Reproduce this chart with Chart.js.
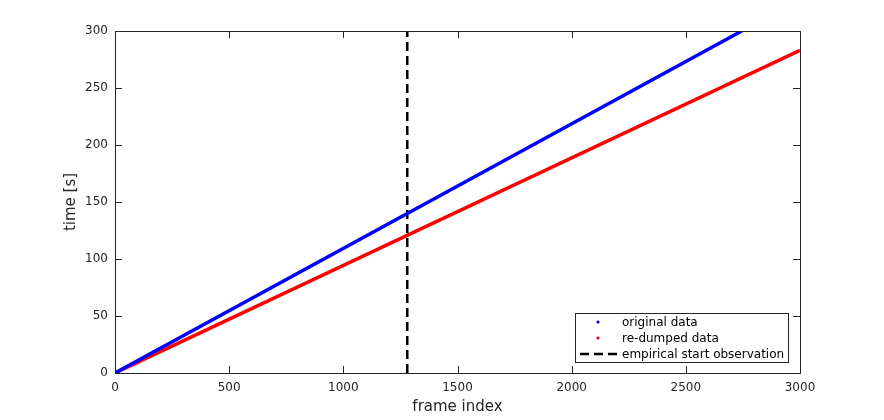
<!DOCTYPE html>
<html>
<head>
<meta charset="utf-8">
<script src="https://cdn.jsdelivr.net/npm/chart.js@4/dist/chart.umd.min.js"></script>
<style>
  html, body { margin: 0; padding: 0; background: #fff; }
  #wrap { width: 884px; height: 420px; }
</style>
</head>
<body>
<div id="wrap"><canvas id="grafico" width="884" height="420"></canvas></div>
<script>
// dados
const origX = [0, 2745];
const origY = [0, 300];
const redumpX = [0, 3000];
const redumpY = [0, 283];
const startFrame = [1280, 1280];
const startY = [0, 300];
const xTicks = [0, 500, 1000, 1500, 2000, 2500, 3000];
const yTicks = [0, 50, 100, 150, 200, 250, 300];
const legendLabels = ['original data', 're-dumped data', 'empirical start observation'];

const axisColor = '#262626';
const fonte = 'DejaVu Sans';

function pontos(xs, ys) {
  return xs.map((x, i) => ({ x: x, y: ys[i] }));
}

// caixa e ticks internos estilo matlab + legenda
const caixaPlugin = {
  id: 'caixa',
  afterDatasetsDraw(chart) {
    const ctx = chart.ctx;
    const a = chart.chartArea;
    const sx = chart.scales.x, sy = chart.scales.y;
    ctx.save();
    ctx.strokeStyle = axisColor;
    ctx.lineWidth = 1;
    ctx.strokeRect(a.left + 0.5, a.top + 0.5, a.right - a.left, a.bottom - a.top);
    ctx.beginPath();
    xTicks.forEach(v => {
      const px = Math.round(sx.getPixelForValue(v)) + 0.5;
      ctx.moveTo(px, a.bottom); ctx.lineTo(px, a.bottom - 7);
      ctx.moveTo(px, a.top); ctx.lineTo(px, a.top + 7);
    });
    yTicks.forEach(v => {
      const py = Math.round(sy.getPixelForValue(v)) + 0.5;
      ctx.moveTo(a.left, py); ctx.lineTo(a.left + 7, py);
      ctx.moveTo(a.right, py); ctx.lineTo(a.right - 7, py);
    });
    ctx.stroke();

    // legenda
    const lx = 575, ly = 313, lw = 213, lh = 49;
    ctx.fillStyle = '#fff';
    ctx.fillRect(lx, ly, lw, lh);
    ctx.strokeStyle = axisColor;
    ctx.strokeRect(lx + 0.5, ly + 0.5, lw, lh);
    const rows = [322, 338, 354];
    ctx.font = '12px ' + fonte;
    ctx.textBaseline = 'middle';
    ctx.textAlign = 'left';
    const cores = ['#0000ff', '#ff0000'];
    for (let i = 0; i < 2; i++) {
      ctx.fillStyle = cores[i];
      ctx.beginPath();
      ctx.arc(598, rows[i], 1.6, 0, Math.PI * 2);
      ctx.fill();
    }
    ctx.strokeStyle = '#000';
    ctx.lineWidth = 2.5;
    ctx.setLineDash([9, 5]);
    ctx.beginPath();
    ctx.moveTo(580, rows[2]); ctx.lineTo(621, rows[2]);
    ctx.stroke();
    ctx.setLineDash([]);
    ctx.fillStyle = '#000';
    legendLabels.forEach((t, i) => ctx.fillText(t, 622, rows[i] + 0.5));
    ctx.restore();
  }
};

const ctx = document.getElementById('grafico').getContext('2d');
const chart = new Chart(ctx, {
  type: 'scatter',
  data: {
    datasets: [
      {
        label: legendLabels[0],
        data: pontos(origX, origY),
        showLine: true,
        borderColor: '#0000ff',
        borderWidth: 3.5,
        pointRadius: 0
      },
      {
        label: legendLabels[1],
        data: pontos(redumpX, redumpY),
        showLine: true,
        borderColor: '#ff0000',
        borderWidth: 3.5,
        pointRadius: 0
      },
      {
        label: legendLabels[2],
        data: pontos(startFrame, startY),
        showLine: true,
        borderColor: '#000',
        borderWidth: 2.5,
        borderDash: [9, 5],
        pointRadius: 0
      }
    ]
  },
  options: {
    responsive: false,
    animation: false,
    events: [],
    layout: { padding: { top: 31, right: 84, left: 0, bottom: 0 } },
    plugins: {
      legend: { display: false },
      tooltip: { enabled: false }
    },
    scales: {
      x: {
        type: 'linear',
        min: 0,
        max: 3000,
        afterFit: s => { s.height = 47; },
        afterBuildTicks: s => { s.ticks = xTicks.map(v => ({ value: v })); },
        grid: { display: false, drawTicks: false },
        border: { display: false },
        ticks: { color: axisColor, font: { family: fonte, size: 12 }, padding: 8, maxRotation: 0, callback: v => String(v) },
        title: { display: true, text: 'frame index', color: axisColor, font: { family: fonte, size: 15 }, padding: { top: 0, bottom: 4 } }
      },
      y: {
        type: 'linear',
        min: 0,
        max: 300,
        afterFit: s => { s.width = 115; },
        afterBuildTicks: s => { s.ticks = yTicks.map(v => ({ value: v })); },
        grid: { display: false, drawTicks: false },
        border: { display: false },
        ticks: { color: axisColor, font: { family: fonte, size: 12 }, padding: 7, callback: v => String(v) },
        title: { display: true, text: 'time [s]', color: axisColor, font: { family: fonte, size: 15 }, padding: { top: 62, bottom: 0 } }
      }
    }
  },
  plugins: [caixaPlugin]
});
</script>
</body>
</html>
